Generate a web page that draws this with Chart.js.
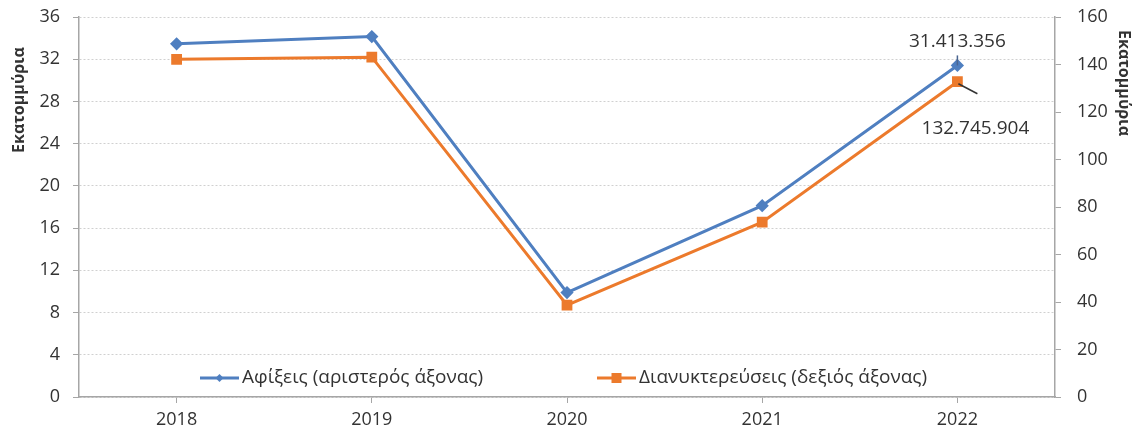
<!DOCTYPE html>
<html>
<head>
<meta charset="utf-8">
<script src="https://cdn.jsdelivr.net/npm/chart.js@4"></script>
<style>
  html, body { margin: 0; padding: 0; background: #fff; }
  #wrap { width: 1137px; height: 434px; }
</style>
</head>
<body>
<div id="wrap"><canvas id="myChart" width="1137" height="434"></canvas></div>
<script>
(function () {
// years on the x axis
var years = ['2018', '2019', '2020', '2021', '2022'];
// arrivals, millions (left axis)
var arrivals = [33.46, 34.15, 9.89, 18.13, 31.413356];
// overnight stays, millions (right axis)
var overnights = [142.2, 143.1, 38.7, 73.6, 132.745904];
var seriesNames = ['Αφίξεις (αριστερός άξονας)', 'Διανυκτερεύσεις (δεξιός άξονας)'];
var axisTitle = 'Εκατομμύρια';
// value labels shown next to the last points
var lastLabels = ['31.413.356', '132.745.904'];
var leftAxis = { min: 0, max: 36, step: 4 };
var rightAxis = { min: 0, max: 160, step: 20 };

var blue = '#4f7fc0';
var orange = '#ec7a2c';
var textColor = '#333333';
var font = 'Open Sans';

// legend, axis titles and value callouts
var extras = {
  id: 'extras',
  afterDraw: function (chart) {
    var c = chart.ctx;
    var area = chart.chartArea;
    c.save();

    // axis titles
    c.fillStyle = textColor;
    c.font = 'bold 16px "' + font + '"';
    c.textAlign = 'center';
    c.textBaseline = 'middle';
    c.save();
    c.translate(19, 100);
    c.rotate(-Math.PI / 2);
    c.fillText(axisTitle, 0, 0);
    c.restore();
    c.save();
    c.translate(1124, 83);
    c.rotate(Math.PI / 2);
    c.fillText(axisTitle, 0, 0);
    c.restore();

    // legend inside the plot area
    var ly = area.bottom - 19;
    var items = [
      { x: 200, color: blue, shape: 'diamond', text: seriesNames[0] },
      { x: 597, color: orange, shape: 'square', text: seriesNames[1] }
    ];
    items.forEach(function (it) {
      c.strokeStyle = it.color;
      c.lineWidth = 3;
      c.beginPath();
      c.moveTo(it.x, ly);
      c.lineTo(it.x + 39, ly);
      c.stroke();
      c.fillStyle = it.color;
      var mx = it.x + 19.5;
      if (it.shape === 'diamond') {
        c.beginPath();
        c.moveTo(mx, ly - 4);
        c.lineTo(mx + 4, ly);
        c.lineTo(mx, ly + 4);
        c.lineTo(mx - 4, ly);
        c.closePath();
        c.fill();
      } else {
        c.fillRect(mx - 5, ly - 5, 10, 10);
      }
      c.fillStyle = textColor;
      c.font = '19px "' + font + '"';
      c.textAlign = 'left';
      c.textBaseline = 'middle';
      c.fillText(it.text, it.x + 42, ly);
    });

    // callouts for the 2022 values
    var pA = chart.getDatasetMeta(0).data[4];
    var pO = chart.getDatasetMeta(1).data[4];
    c.font = '19px "' + font + '"';
    c.textAlign = 'center';
    c.textBaseline = 'middle';
    c.fillStyle = textColor;
    c.strokeStyle = '#4a6590';
    c.lineWidth = 1.5;
    c.beginPath();
    c.moveTo(pA.x, pA.y - 10);
    c.lineTo(pA.x, pA.y);
    c.stroke();
    c.fillText(lastLabels[0], pA.x, pA.y - 24);

    c.strokeStyle = '#333333';
    c.beginPath();
    c.moveTo(pO.x + 1, pO.y + 2);
    c.lineTo(pO.x + 20, pO.y + 12);
    c.stroke();
    c.fillText(lastLabels[1], pO.x + 18, pO.y + 47);

    c.restore();
  }
};

var tickFont = { family: font, size: 18 };

// fixed axis sizes; drop the label overhang so the plot top follows layout.padding
function fixWidth(w) {
  return function (s) {
    s.width = w;
    s.paddingTop = 0;
    s.paddingBottom = 0;
  };
}

var ctx = document.getElementById('myChart');
var myChart = new Chart(ctx, {
  type: 'line',
  data: {
    labels: years,
    datasets: [{
      label: seriesNames[0],
      data: arrivals,
      yAxisID: 'yLeft',
      borderColor: blue,
      backgroundColor: blue,
      borderWidth: 3,
      pointStyle: 'rectRot',
      pointRadius: 4.5,
      pointHoverRadius: 4.5,
      tension: 0
    }, {
      label: seriesNames[1],
      data: overnights,
      yAxisID: 'yRight',
      borderColor: orange,
      backgroundColor: orange,
      borderWidth: 3,
      pointStyle: 'rect',
      pointRadius: 5.5,
      pointHoverRadius: 5.5,
      tension: 0
    }]
  },
  options: {
    responsive: false,
    animation: false,
    events: [],
    layout: { padding: { top: 17, left: 0, right: 0, bottom: 0 } },
    plugins: {
      legend: { display: false },
      tooltip: { enabled: false }
    },
    scales: {
      x: {
        offset: true,
        grid: {
          offset: false,
          drawOnChartArea: false,
          tickLength: 6,
          color: '#a6a6a6'
        },
        border: { color: '#a6a6a6', width: 1.5 },
        ticks: { color: textColor, font: tickFont, padding: 6, maxRotation: 0 },
        afterFit: function (s) { s.height = 37; s.paddingLeft = 0; s.paddingRight = 0; }
      },
      yLeft: {
        position: 'left',
        min: leftAxis.min,
        max: leftAxis.max,
        ticks: { stepSize: leftAxis.step, color: textColor, font: tickFont, padding: 13 },
        grid: { color: '#d0d0d0', tickLength: 6, tickColor: '#a6a6a6', tickBorderDash: [] },
        border: { color: '#a6a6a6', width: 1.5, dash: [2, 2] },
        afterFit: fixWidth(79)
      },
      yRight: {
        position: 'right',
        min: rightAxis.min,
        max: rightAxis.max,
        ticks: { stepSize: rightAxis.step, color: textColor, font: tickFont, padding: 16 },
        grid: { drawOnChartArea: false, tickLength: 6, color: '#a6a6a6' },
        border: { color: '#a6a6a6', width: 1.5 },
        afterFit: fixWidth(82)
      }
    }
  },
  plugins: [extras]
});
})();
</script>
</body>
</html>
